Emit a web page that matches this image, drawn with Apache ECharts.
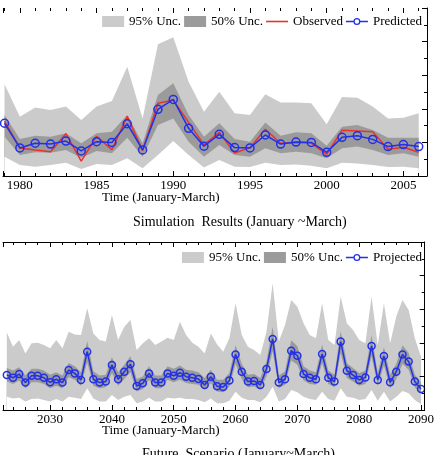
<!DOCTYPE html>
<html>
<head>
<meta charset="utf-8">
<script src="https://cdn.jsdelivr.net/npm/echarts@6/dist/echarts.min.js"></script>
<style>
  html, body { margin: 0; padding: 0; background: #fff; }
  #chart { width: 437px; height: 455px; }
</style>
</head>
<body>
<div id="chart"></div>
<script>
// simulation period 1979-2006
var simYears = [1979, 1980, 1981, 1982, 1983, 1984, 1985, 1986, 1987, 1988, 1989, 1990, 1991, 1992,
  1993, 1994, 1995, 1996, 1997, 1998, 1999, 2000, 2001, 2002, 2003, 2004, 2005, 2006];
var simObserved = [3.27, 1.67, 1.55, 1.45, 2.52, 0.89, 2.36, 1.57, 3.55, 1.51, 4.33, 4.52, 3.19, 1.85,
  2.6, 1.37, 1.69, 2.78, 1.95, 2.0, 1.96, 1.29, 2.72, 2.68, 2.64, 1.59, 1.71, 1.41];
var simPredicted = [3.14, 1.67, 1.95, 1.9, 2.08, 1.49, 2.04, 2.0, 3.11, 1.55, 3.97, 4.56, 2.84, 1.77,
  2.48, 1.69, 1.67, 2.44, 1.9, 2.02, 2.0, 1.41, 2.3, 2.4, 2.18, 1.75, 1.87, 1.75];
var simUpper95 = [5.46, 3.53, 4.07, 3.93, 4.13, 3.33, 4.13, 4.46, 6.51, 3.43, 7.84, 8.26, 5.61, 3.83,
  5.02, 3.73, 3.63, 4.86, 4.38, 4.38, 4.33, 3.08, 4.7, 4.66, 4.13, 3.43, 3.47, 3.73];
var simLower95 = [1.15, 0.65, 0.55, 0.65, 0.79, 0.42, 0.71, 0.65, 1.05, 0.46, 1.25, 2.08, 1.25, 0.5,
  0.95, 0.55, 0.53, 0.79, 0.65, 0.69, 0.61, 0.46, 0.79, 0.75, 0.65, 0.53, 0.55, 0.46];
var simUpper50 = [3.63, 2.2, 2.4, 2.34, 2.54, 1.95, 2.54, 2.64, 3.63, 1.95, 4.82, 5.52, 3.63, 2.34,
  3.14, 2.2, 2.04, 3.19, 2.4, 2.6, 2.54, 1.8, 2.93, 3.04, 2.74, 2.28, 2.28, 2.28];
var simLower50 = [2.34, 1.25, 1.41, 1.39, 1.55, 1.09, 1.49, 1.35, 2.28, 1.15, 3.04, 3.43, 2.04, 1.15,
  1.85, 1.25, 1.15, 1.65, 1.35, 1.45, 1.35, 1.05, 1.65, 1.75, 1.55, 1.25, 1.35, 1.15];

// future scenario 2023-2090
var futYears = [];
for (var y = 2023; y <= 2090; y++) futYears.push(y);
var futProjected = [2.08, 1.92, 2.14, 1.63, 2.04, 2.04, 1.92, 1.65, 1.83, 1.63, 2.38, 2.18, 1.79, 3.47,
  1.83, 1.63, 1.69, 2.68, 1.83, 2.28, 2.72, 1.43, 1.59, 2.18, 1.63, 1.63, 2.18, 2.04, 2.22, 1.98,
  1.92, 1.85, 1.49, 1.98, 1.41, 1.37, 1.75, 3.31, 2.28, 1.69, 1.73, 1.49, 2.44, 4.23, 1.63, 1.83,
  3.53, 3.23, 2.14, 1.92, 1.83, 3.33, 1.92, 1.69, 4.07, 2.34, 2.08, 1.79, 1.94, 3.81, 1.79, 3.21,
  1.65, 2.28, 3.31, 2.88, 1.69, 1.25];
var futUpper95 = [4.62, 3.77, 4.17, 3.37, 3.97, 4.0, 3.87, 3.67, 4.17, 3.67, 4.66, 4.5, 4.46, 6.05,
  4.56, 4.17, 4.07, 5.65, 4.17, 4.96, 5.36, 3.57, 3.97, 4.27, 3.87, 4.07, 4.3, 4.17, 5.26, 4.46,
  4.0, 3.77, 3.37, 4.56, 3.92, 3.47, 4.27, 6.35, 4.46, 3.77, 3.57, 3.27, 4.66, 7.54, 4.07, 5.06,
  6.55, 6.15, 5.16, 4.46, 4.27, 6.35, 4.17, 3.87, 6.75, 5.16, 4.76, 4.17, 3.97, 6.75, 3.87, 6.35,
  3.97, 5.56, 6.55, 5.95, 4.27, 3.17];
var futLower95 = [0.79, 0.69, 0.73, 0.5, 0.65, 0.69, 0.6, 0.5, 0.65, 0.5, 0.79, 0.73, 0.65, 1.29,
  0.69, 0.5, 0.5, 0.89, 0.6, 0.79, 0.89, 0.4, 0.5, 0.73, 0.5, 0.5, 0.73, 0.69, 0.73, 0.65,
  0.65, 0.6, 0.46, 0.69, 0.4, 0.4, 0.55, 1.09, 0.73, 0.6, 0.6, 0.46, 0.79, 1.39, 0.5, 0.65,
  1.19, 1.05, 0.79, 0.65, 0.6, 1.09, 0.65, 0.55, 1.29, 0.79, 0.73, 0.6, 0.65, 1.19, 0.55, 1.09,
  0.5, 0.79, 1.13, 0.99, 0.6, 0.34];
var futUpper50 = [2.5, 2.35, 2.55, 2.05, 2.45, 2.45, 2.35, 2.1, 2.25, 2.05, 2.8, 2.6, 2.25, 4.1,
  2.3, 2.05, 2.1, 3.15, 2.25, 2.7, 3.2, 1.85, 2.0, 2.6, 2.05, 2.05, 2.6, 2.45, 2.65, 2.4,
  2.35, 2.25, 1.9, 2.4, 1.8, 1.8, 2.2, 3.85, 2.75, 2.1, 2.15, 1.9, 2.9, 4.95, 2.05, 2.3,
  4.15, 3.8, 2.6, 2.35, 2.25, 3.9, 2.35, 2.1, 4.7, 2.8, 2.5, 2.2, 2.35, 4.45, 2.2, 3.75,
  2.1, 2.75, 3.85, 3.4, 2.1, 1.65];
var futLower50 = [1.7, 1.55, 1.75, 1.3, 1.65, 1.65, 1.55, 1.3, 1.45, 1.3, 1.95, 1.8, 1.45, 2.85,
  1.45, 1.3, 1.35, 2.2, 1.45, 1.85, 2.25, 1.1, 1.25, 1.8, 1.3, 1.3, 1.8, 1.65, 1.8, 1.6,
  1.55, 1.5, 1.2, 1.6, 1.1, 1.05, 1.4, 2.75, 1.85, 1.35, 1.4, 1.2, 2.0, 3.5, 1.3, 1.5,
  2.95, 2.7, 1.75, 1.55, 1.5, 2.8, 1.55, 1.35, 3.4, 1.9, 1.7, 1.45, 1.55, 3.2, 1.45, 2.65,
  1.3, 1.85, 2.75, 2.4, 1.35, 0.95];

var FONT = "Liberation Serif";
var LIGHT = "#cbcbcb";
var DARK = "#9b9b9b";
var RED = "#e8332b";
var BLUE = "#2230e6";

function pairs(xs, ys) {
  return xs.map(function (x, i) { return [x, ys[i]]; });
}

// filled area down to the axis; bands are layered u95 > u50 > l50 > l95(white)
function fill(name, years, vals, color, idx) {
  return {
    type: "line", name: name, xAxisIndex: idx * 2, yAxisIndex: idx,
    data: pairs(years, vals), symbol: "none", lineStyle: { width: 0 },
    itemStyle: { color: color }, areaStyle: { color: color, opacity: 1 }, silent: true
  };
}

function xAxes(grid, min, max, step, minorSplit, topLine) {
  var common = {
    type: "value", gridIndex: grid, min: min, max: max, minInterval: step, maxInterval: step,
    splitLine: { show: false }, z: 5
  };
  return [
    Object.assign({}, common, {
      position: "bottom",
      axisLine: { show: true, onZero: false, lineStyle: { color: "#000", width: 1 } },
      axisTick: { inside: true, length: 5, lineStyle: { color: "#000" } },
      minorTick: { show: true, splitNumber: minorSplit, length: 3, lineStyle: { color: "#000" } },
      axisLabel: {
        color: "#000", fontFamily: FONT, fontSize: 13, margin: 3,
        formatter: function (v) { return Math.abs(v % step) < 1e-6 ? String(v) : ""; }
      }
    }),
    Object.assign({}, common, {
      position: "top",
      axisLine: { show: topLine, onZero: false, lineStyle: { color: "#000", width: 1 } },
      axisTick: { inside: true, length: 5, lineStyle: { color: "#000" } },
      minorTick: { show: true, splitNumber: minorSplit, length: 3, lineStyle: { color: "#000" } },
      axisLabel: { show: false }
    })
  ];
}

function yAxis(grid) {
  return {
    type: "value", gridIndex: grid, position: "right", min: 0, max: 10, interval: 2, z: 5,
    axisLine: { show: true, lineStyle: { color: "#000", width: 1 } },
    axisTick: { inside: true, length: 5, lineStyle: { color: "#000" } },
    minorTick: { show: true, splitNumber: 2, length: 3, lineStyle: { color: "#000" } },
    axisLabel: { show: false },
    splitLine: { show: false }
  };
}

var textStyle = { fontFamily: FONT, fontSize: 13, color: "#000" };
var titleStyle = { fontFamily: FONT, fontSize: 13, fontWeight: "normal", color: "#000" };
var capStyle = { fontFamily: FONT, fontSize: 14, fontWeight: "normal", color: "#000" };
var lineIcon = "path://M0,0H22V1.6H0Z";
// line with a small hollow circle
var markerIcon = "path://M0,4.7H7.5V6.3H0Z M14.5,4.7H22V6.3H14.5Z " +
  "M14.5,5.5A3.5,3.5 0 1 1 7.5,5.5A3.5,3.5 0 1 1 14.5,5.5Z " +
  "M13.2,5.5A2.2,2.2 0 1 0 8.8,5.5A2.2,2.2 0 1 0 13.2,5.5Z";

var chart = echarts.init(document.getElementById("chart"));
chart.setOption({
  backgroundColor: "#fff",
  animation: false,
  title: [
    { text: "Time (January-March)", left: 102, top: 191, padding: 0, textStyle: titleStyle },
    { text: "Simulation  Results (January ~March)", left: 133, top: 215, padding: 0, textStyle: capStyle },
    { text: "Time (January-March)", left: 102, top: 424, padding: 0, textStyle: titleStyle },
    { text: "Future  Scenario (January~March)", left: 142, top: 447, padding: 0, textStyle: capStyle }
  ],
  legend: [
    {
      top: 15, right: 15, padding: 0, itemWidth: 22, itemHeight: 11, itemGap: 3,
      selectedMode: false, textStyle: textStyle,
      data: [
        { name: "95% Unc.", icon: "rect", itemStyle: { color: LIGHT } },
        { name: "50% Unc.", icon: "rect", itemStyle: { color: DARK } },
        { name: "Observed", icon: lineIcon, itemStyle: { color: RED } },
        { name: "Predicted", icon: markerIcon, itemStyle: { color: BLUE, borderWidth: 0 } }
      ]
    },
    {
      top: 251, right: 15, padding: 0, itemWidth: 22, itemHeight: 11, itemGap: 3,
      selectedMode: false, textStyle: textStyle,
      data: [
        { name: "95% Unc.", icon: "rect", itemStyle: { color: LIGHT } },
        { name: "50% Unc.", icon: "rect", itemStyle: { color: DARK } },
        { name: "Projected", icon: markerIcon, itemStyle: { color: BLUE, borderWidth: 0 } }
      ]
    }
  ],
  grid: [
    { left: 0, right: 10, top: 8, height: 168 },
    { left: 0, right: 10, top: 242, height: 168 }
  ],
  xAxis: xAxes(0, 1978.9, 2006.54, 5, 5, false).concat(xAxes(1, 2022.38, 2090.59, 10, 5, true)),
  yAxis: [yAxis(0), yAxis(1)],
  series: [
    fill("95% Unc.", simYears, simUpper95, LIGHT, 0),
    fill("50% Unc.", simYears, simUpper50, DARK, 0),
    fill("sim_l50", simYears, simLower50, LIGHT, 0),
    fill("sim_l95", simYears, simLower95, "#fff", 0),
    {
      type: "line", name: "Observed", xAxisIndex: 0, yAxisIndex: 0,
      data: pairs(simYears, simObserved), symbol: "none",
      lineStyle: { color: RED, width: 1.5 }, itemStyle: { color: RED }
    },
    {
      type: "line", name: "Predicted", xAxisIndex: 0, yAxisIndex: 0,
      data: pairs(simYears, simPredicted), symbol: "circle", symbolSize: 8,
      lineStyle: { color: BLUE, width: 1.5 },
      itemStyle: { color: "rgba(0,0,0,0)", borderColor: BLUE, borderWidth: 1.5 }
    },
    fill("95% Unc.", futYears, futUpper95, LIGHT, 1),
    fill("50% Unc.", futYears, futUpper50, DARK, 1),
    fill("fut_l50", futYears, futLower50, LIGHT, 1),
    fill("fut_l95", futYears, futLower95, "#fff", 1),
    {
      type: "line", name: "Projected", xAxisIndex: 2, yAxisIndex: 1,
      data: pairs(futYears, futProjected), symbol: "circle", symbolSize: 7,
      lineStyle: { color: BLUE, width: 1.5 },
      itemStyle: { color: "rgba(0,0,0,0)", borderColor: BLUE, borderWidth: 1.5 }
    }
  ]
});
</script>
</body>
</html>
